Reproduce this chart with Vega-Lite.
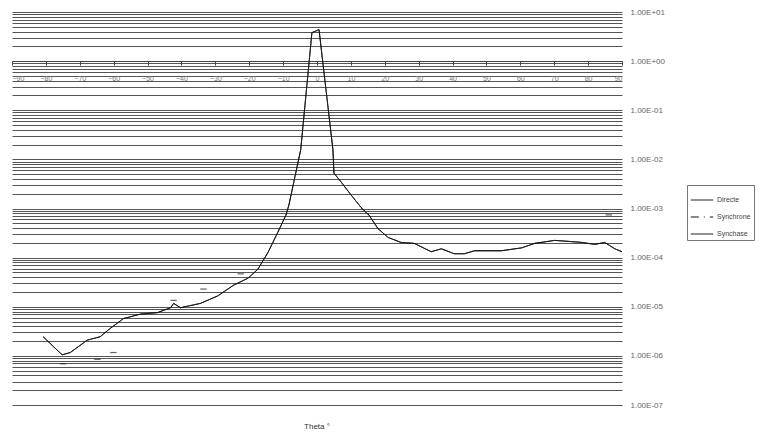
{
  "$schema": "https://vega.github.io/schema/vega-lite/v6.json",
  "autosize": "none",
  "width": 610,
  "height": 393,
  "padding": {"left": 12, "top": 12, "right": 154, "bottom": 37},
  "background": "white",
  "config": {
    "view": {"stroke": null},
    "font": "Liberation Sans"
  },
  "title": {"text": "Theta °", "orient": "bottom", "fontSize": 8, "fontWeight": "normal", "color": "#333", "offset": 14, "font": "Liberation Sans"},
  "data": {"values": [
    {"series": "Directe", "theta": -80.8, "value": 2.45e-6},
    {"series": "Directe", "theta": -75.2, "value": 1.05e-6},
    {"series": "Directe", "theta": -72.8, "value": 1.17e-6},
    {"series": "Directe", "theta": -67.8, "value": 2.09e-6},
    {"series": "Directe", "theta": -64.0, "value": 2.45e-6},
    {"series": "Directe", "theta": -61.0, "value": 3.63e-6},
    {"series": "Directe", "theta": -57.1, "value": 5.75e-6},
    {"series": "Directe", "theta": -52.1, "value": 7.08e-6},
    {"series": "Directe", "theta": -47.1, "value": 7.59e-6},
    {"series": "Directe", "theta": -43.2, "value": 9.55e-6},
    {"series": "Directe", "theta": -42.3, "value": 1.17e-5},
    {"series": "Directe", "theta": -40.3, "value": 9.55e-6},
    {"series": "Directe", "theta": -34.4, "value": 1.17e-5},
    {"series": "Directe", "theta": -29.3, "value": 1.66e-5},
    {"series": "Directe", "theta": -24.6, "value": 2.75e-5},
    {"series": "Directe", "theta": -20.4, "value": 3.80e-5},
    {"series": "Directe", "theta": -17.5, "value": 5.75e-5},
    {"series": "Directe", "theta": -14.5, "value": 1.26e-4},
    {"series": "Directe", "theta": -11.6, "value": 3.24e-4},
    {"series": "Directe", "theta": -9.2, "value": 7.24e-4},
    {"series": "Directe", "theta": -8.3, "value": 1.17e-3},
    {"series": "Directe", "theta": -4.8, "value": 1.58e-2},
    {"series": "Directe", "theta": -1.5, "value": 3.8},
    {"series": "Directe", "theta": 0.6, "value": 4.37},
    {"series": "Directe", "theta": 4.7, "value": 1.58e-2},
    {"series": "Directe", "theta": 5.0, "value": 5.25e-3},
    {"series": "Directe", "theta": 7.1, "value": 3.47e-3},
    {"series": "Directe", "theta": 10.0, "value": 1.91e-3},
    {"series": "Directe", "theta": 13.0, "value": 1.05e-3},
    {"series": "Directe", "theta": 15.4, "value": 7.24e-4},
    {"series": "Directe", "theta": 18.0, "value": 3.89e-4},
    {"series": "Directe", "theta": 21.0, "value": 2.57e-4},
    {"series": "Directe", "theta": 24.8, "value": 2.04e-4},
    {"series": "Directe", "theta": 28.7, "value": 1.95e-4},
    {"series": "Directe", "theta": 33.7, "value": 1.32e-4},
    {"series": "Directe", "theta": 36.7, "value": 1.51e-4},
    {"series": "Directe", "theta": 40.5, "value": 1.20e-4},
    {"series": "Directe", "theta": 43.5, "value": 1.20e-4},
    {"series": "Directe", "theta": 46.5, "value": 1.38e-4},
    {"series": "Directe", "theta": 54.4, "value": 1.38e-4},
    {"series": "Directe", "theta": 60.4, "value": 1.58e-4},
    {"series": "Directe", "theta": 64.2, "value": 1.95e-4},
    {"series": "Directe", "theta": 70.1, "value": 2.24e-4},
    {"series": "Directe", "theta": 74.3, "value": 2.14e-4},
    {"series": "Directe", "theta": 78.1, "value": 2.04e-4},
    {"series": "Directe", "theta": 82.0, "value": 1.86e-4},
    {"series": "Directe", "theta": 84.9, "value": 2.04e-4},
    {"series": "Directe", "theta": 87.9, "value": 1.51e-4},
    {"series": "Directe", "theta": 90.0, "value": 1.32e-4},
    {"series": "Synchase", "theta": -80.8, "value": 2.45e-6},
    {"series": "Synchase", "theta": -75.2, "value": 1.05e-6},
    {"series": "Synchase", "theta": -72.8, "value": 1.17e-6},
    {"series": "Synchase", "theta": -67.8, "value": 2.09e-6},
    {"series": "Synchase", "theta": -64.0, "value": 2.45e-6},
    {"series": "Synchase", "theta": -61.0, "value": 3.63e-6},
    {"series": "Synchase", "theta": -57.1, "value": 5.75e-6},
    {"series": "Synchase", "theta": -52.1, "value": 7.08e-6},
    {"series": "Synchase", "theta": -47.1, "value": 7.59e-6},
    {"series": "Synchase", "theta": -43.2, "value": 9.55e-6},
    {"series": "Synchase", "theta": -42.3, "value": 1.17e-5},
    {"series": "Synchase", "theta": -40.3, "value": 9.55e-6},
    {"series": "Synchase", "theta": -34.4, "value": 1.17e-5},
    {"series": "Synchase", "theta": -29.3, "value": 1.66e-5},
    {"series": "Synchase", "theta": -24.6, "value": 2.75e-5},
    {"series": "Synchase", "theta": -20.4, "value": 3.80e-5},
    {"series": "Synchase", "theta": -17.5, "value": 5.75e-5},
    {"series": "Synchase", "theta": -14.5, "value": 1.26e-4},
    {"series": "Synchase", "theta": -11.6, "value": 3.24e-4},
    {"series": "Synchase", "theta": -9.2, "value": 7.24e-4},
    {"series": "Synchase", "theta": -8.3, "value": 1.17e-3},
    {"series": "Synchase", "theta": -4.8, "value": 1.58e-2},
    {"series": "Synchase", "theta": -1.5, "value": 3.8},
    {"series": "Synchase", "theta": 0.6, "value": 4.37},
    {"series": "Synchase", "theta": 4.7, "value": 1.58e-2},
    {"series": "Synchase", "theta": 5.0, "value": 5.25e-3},
    {"series": "Synchase", "theta": 7.1, "value": 3.47e-3},
    {"series": "Synchase", "theta": 10.0, "value": 1.91e-3},
    {"series": "Synchase", "theta": 13.0, "value": 1.05e-3},
    {"series": "Synchase", "theta": 15.4, "value": 7.24e-4},
    {"series": "Synchase", "theta": 18.0, "value": 3.89e-4},
    {"series": "Synchase", "theta": 21.0, "value": 2.57e-4},
    {"series": "Synchase", "theta": 24.8, "value": 2.04e-4},
    {"series": "Synchase", "theta": 28.7, "value": 1.95e-4},
    {"series": "Synchase", "theta": 33.7, "value": 1.32e-4},
    {"series": "Synchase", "theta": 36.7, "value": 1.51e-4},
    {"series": "Synchase", "theta": 40.5, "value": 1.20e-4},
    {"series": "Synchase", "theta": 43.5, "value": 1.20e-4},
    {"series": "Synchase", "theta": 46.5, "value": 1.38e-4},
    {"series": "Synchase", "theta": 54.4, "value": 1.38e-4},
    {"series": "Synchase", "theta": 60.4, "value": 1.58e-4},
    {"series": "Synchase", "theta": 64.2, "value": 1.95e-4},
    {"series": "Synchase", "theta": 70.1, "value": 2.24e-4},
    {"series": "Synchase", "theta": 74.3, "value": 2.14e-4},
    {"series": "Synchase", "theta": 78.1, "value": 2.04e-4},
    {"series": "Synchase", "theta": 82.0, "value": 1.86e-4},
    {"series": "Synchase", "theta": 84.9, "value": 2.04e-4},
    {"series": "Synchase", "theta": 87.9, "value": 1.51e-4},
    {"series": "Synchase", "theta": 90.0, "value": 1.32e-4},
    {"series": "Synchrone", "theta": -74.9, "value": 6.9e-7},
    {"series": "Synchrone", "theta": -64.8, "value": 8.5e-7},
    {"series": "Synchrone", "theta": -60.1, "value": 1.17e-6},
    {"series": "Synchrone", "theta": -42.3, "value": 1.35e-5},
    {"series": "Synchrone", "theta": -33.5, "value": 2.29e-5},
    {"series": "Synchrone", "theta": -22.5, "value": 4.68e-5},
    {"series": "Synchrone", "theta": 86.1, "value": 7.4e-4}
  ]},
  "encoding": {
    "x": {
      "field": "theta", "type": "quantitative",
      "scale": {"domain": [-90, 90], "nice": false, "zero": false},
      "axis": {
        "orient": "bottom", "offset": -344, "title": null,
        "values": [-90, -80, -70, -60, -50, -40, -30, -20, -10, 0, 10, 20, 30, 40, 50, 60, 70, 80, 90],
        "grid": false, "domain": true, "domainColor": "#444", "tickColor": "#444", "tickSize": 4,
        "labelFontSize": 7, "labelColor": "#777", "labelPadding": 9
      }
    },
    "y": {
      "field": "value", "type": "quantitative",
      "scale": {"type": "log", "domain": [1e-7, 10], "nice": false},
      "axis": {
        "orient": "right", "title": null,
        "values": [1e-7,2e-7,3e-7,4e-7,5e-7,6e-7,7e-7,8e-7,9e-7,
                   1e-6,2e-6,3e-6,4e-6,5e-6,6e-6,7e-6,8e-6,9e-6,
                   1e-5,2e-5,3e-5,4e-5,5e-5,6e-5,7e-5,8e-5,9e-5,
                   1e-4,2e-4,3e-4,4e-4,5e-4,6e-4,7e-4,8e-4,9e-4,
                   1e-3,2e-3,3e-3,4e-3,5e-3,6e-3,7e-3,8e-3,9e-3,
                   1e-2,2e-2,3e-2,4e-2,5e-2,6e-2,7e-2,8e-2,9e-2,
                   0.1,0.2,0.3,0.4,0.5,0.6,0.7,0.8,0.9,
                   1,2,3,4,5,6,7,8,9,10],
        "labelExpr": "abs(log(datum.value)/LN10 - round(log(datum.value)/LN10)) < 0.001 ? '1.00E' + (round(log(datum.value)/LN10) < 0 ? '-' : '+') + '0' + abs(round(log(datum.value)/LN10)) : ''",
        "grid": true, "gridColor": "#555", "gridWidth": 1.2,
        "domain": false, "ticks": false,
        "labelFontSize": 8, "labelColor": "#666", "labelPadding": 8
      }
    }
  },
  "layer": [
    {
      "transform": [{"filter": "datum.series !== 'Synchrone'"}],
      "mark": {"type": "line", "color": "#111"},
      "encoding": {
        "detail": {"field": "series"},
        "strokeDash": {
          "field": "series", "type": "nominal",
          "scale": {"domain": ["Directe", "Synchrone", "Synchase"], "range": [[1, 0], [8, 5, 1, 5], [1, 0]]},
          "legend": {
            "title": null, "orient": "none", "legendX": 675, "legendY": 173,
            "symbolType": "M-1,0H1", "symbolSize": 500, "symbolStrokeColor": "#111",
            "labelFontSize": 7, "labelColor": "#444", "rowPadding": 2, "labelOffset": 3,
            "strokeColor": "#777", "padding": 3
          }
        },
        "strokeWidth": {
          "field": "series", "type": "nominal",
          "scale": {"domain": ["Directe", "Synchrone", "Synchase"], "range": [1, 1, 1.8]},
          "legend": {
            "title": null, "orient": "none", "legendX": 675, "legendY": 173,
            "symbolType": "M-1,0H1", "symbolSize": 500, "symbolStrokeColor": "#111",
            "labelFontSize": 7, "labelColor": "#444", "rowPadding": 2, "labelOffset": 3,
            "strokeColor": "#777", "padding": 3
          }
        }
      }
    },
    {
      "transform": [{"filter": "datum.series === 'Synchrone'"}],
      "mark": {"type": "point", "shape": "stroke", "size": 40, "color": "#222", "strokeWidth": 1.2}
    }
  ]
}
